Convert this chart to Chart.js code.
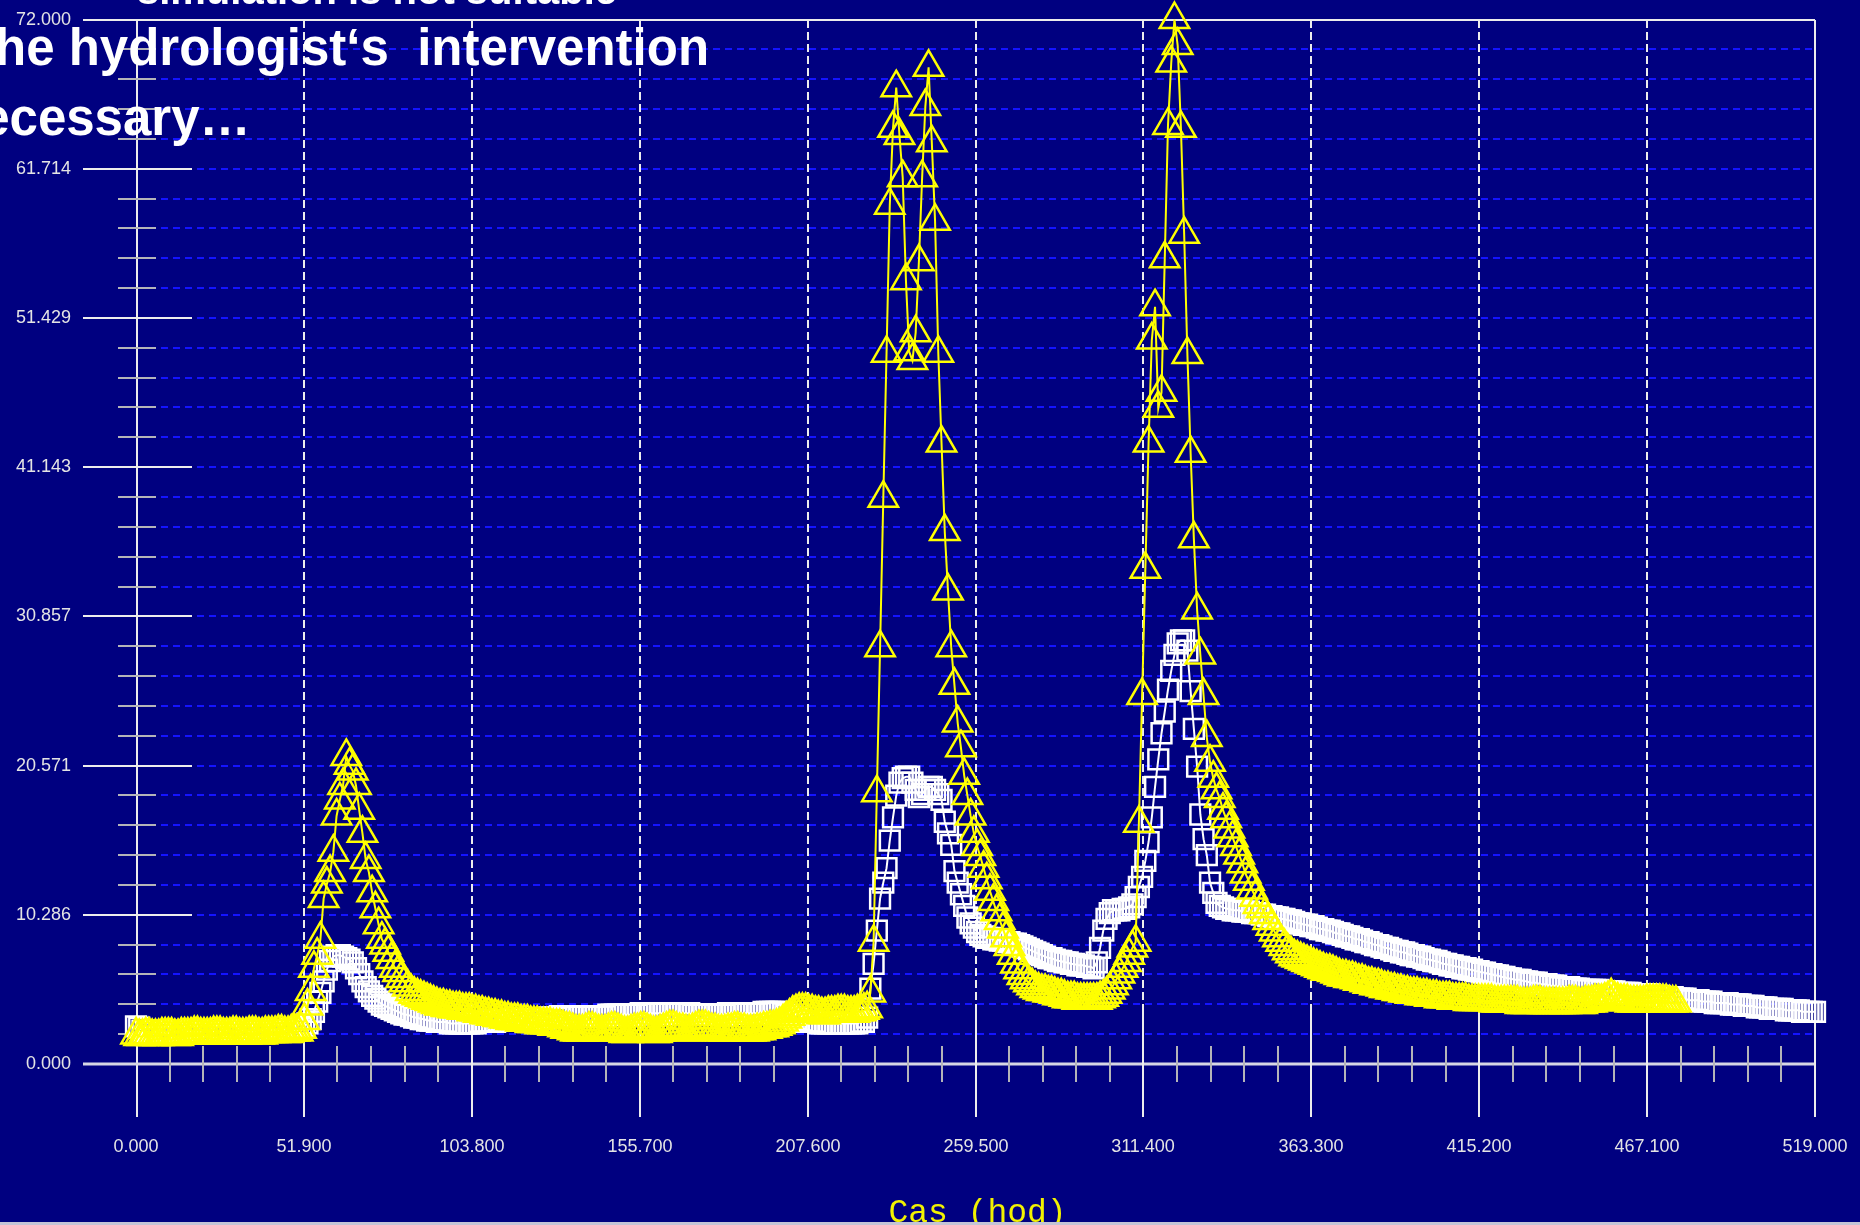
<!DOCTYPE html>
<html>
<head>
<meta charset="utf-8">
<title>Cas (hod)</title>
<script src="https://cdn.jsdelivr.net/npm/chart.js@4.4.1/dist/chart.umd.min.js"></script>
<style>
  html, body { margin: 0; padding: 0; width: 1860px; height: 1225px; overflow: hidden; background: #000080; }
  #wrap { position: absolute; left: 0; top: 0; width: 1860px; height: 1225px; }
  .note { position: absolute; white-space: pre; font: bold 51px "Liberation Sans", Arial, sans-serif; line-height: 51px; color: #fff; }
  .note.first { font-size: 40px; line-height: 40px; }
</style>
</head>
<body>
<div id="wrap"><canvas id="c" width="1860" height="1225"></canvas></div>
<div class="note first" style="right:1243px;top:-30px">simulation is not suitable</div>
<div class="note" style="left:-22px;top:22px">the hydrologist‘s  intervention</div>
<div class="note" style="left:-50px;top:92px">necessary…</div>
<script>
// Hydrograph: observed flow (squares) vs simulated flow (triangles), hourly steps.
const STEP_H = 1;
const X_LABELS = ["0.000", "51.900", "103.800", "155.700", "207.600", "259.500", "311.400", "363.300", "415.200", "467.100", "519.000"];
const Y_LABELS = ["0.000", "10.286", "20.571", "30.857", "41.143", "51.429", "61.714", "72.000"];
const MINOR_PER_MAJOR = 5;
const X_TITLE = "Cas (hod)";

// observed, hours 0..519
const OBS_FLOW = [
  2.6,2.5,2.3,2.2,2.2,2.2,2.3,2.2,2.2,2.2, 2.2,2.2,2.2,2.3,2.2,2.2,2.2,2.2,2.3,2.3,
  2.2,2.2,2.2,2.2,2.2,2.2,2.2,2.3,2.3,2.3, 2.3,2.2,2.2,2.2,2.2,2.3,2.3,2.2,2.2,2.2,
  2.3,2.3,2.3,2.3,2.3,2.3,2.3,2.3,2.4,2.4, 2.4,2.5,2.6,2.8,3.1,3.6,4.3,4.9,5.7,6.5,
  7.1,7.4,7.5,7.5,7.4,7.3,7.2,7.0,6.6,6.2, 5.7,5.3,5.0,4.7,4.5,4.3,4.1,4.0,3.9,3.8,
  3.7,3.6,3.5,3.4,3.4,3.3,3.2,3.2,3.1,3.1, 3.0,3.0,3.0,2.9,2.9,2.9,2.9,2.8,2.8,2.8,
  2.8,2.8,2.8,2.8,2.8,2.8,2.9,2.9,2.9,2.9, 2.9,2.9,3.0,3.0,3.0,3.0,3.0,3.0,3.0,3.0,
  3.0,3.0,3.1,3.1,3.1,3.1,3.1,3.2,3.2,3.2, 3.2,3.3,3.3,3.3,3.3,3.3,3.3,3.3,3.3,3.3,
  3.3,3.3,3.3,3.3,3.3,3.3,3.4,3.4,3.4,3.4, 3.4,3.4,3.4,3.4,3.4,3.4,3.5,3.5,3.5,3.5,
  3.5,3.5,3.5,3.5,3.5,3.5,3.5,3.5,3.5,3.5, 3.5,3.5,3.4,3.4,3.4,3.4,3.4,3.4,3.4,3.4,
  3.4,3.4,3.4,3.5,3.5,3.5,3.5,3.5,3.5,3.5, 3.5,3.5,3.5,3.5,3.6,3.6,3.6,3.6,3.6,3.6,
  3.5,3.4,3.3,3.2,3.1,3.0,3.0,2.9,2.9,2.9, 2.9,2.8,2.8,2.8,2.8,2.8,2.8,2.8,2.8,2.8,
  2.8,2.8,2.8,2.8,2.9,2.9,3.2,5.2,6.9,9.2, 11.4,12.5,13.5,15.4,17.0,18.5,19.4,19.7,19.8,19.8,
  19.4,18.9,18.4,18.6,18.9,19.1,19.1,18.9,18.6,18.2, 16.7,15.9,15.1,13.3,12.5,11.7,10.9,10.1,9.7,9.4,
  9.1,8.9,8.8,8.7,8.7,8.6,8.6,8.5,8.5,8.4, 8.4,8.3,8.3,8.2,8.1,8.0,7.9,7.8,7.7,7.6,
  7.5,7.4,7.3,7.3,7.2,7.1,7.1,7.0,7.0,6.9, 6.9,6.8,6.8,6.8,6.7,6.7,6.6,7.0,8.0,9.2,
  10.0,10.4,10.6,10.6,10.6,10.7,10.7,10.8,11.0,11.5, 12.2,12.9,14.0,15.3,17.0,19.1,21.0,22.8,24.3,25.8,
  27.1,28.2,29.0,29.2,29.2,28.5,25.7,23.1,20.5,17.2, 15.5,14.4,12.5,11.8,11.1,10.9,10.8,10.7,10.7,10.6,
  10.6,10.6,10.5,10.5,10.5,10.4,10.4,10.4,10.3,10.3, 10.2,10.2,10.1,10.1,10.0,10.0,9.9,9.9,9.8,9.7,
  9.7,9.6,9.6,9.5,9.5,9.4,9.3,9.3,9.2,9.2, 9.1,9.0,9.0,8.9,8.8,8.8,8.7,8.6,8.6,8.5,
  8.4,8.4,8.3,8.2,8.2,8.1,8.0,8.0,7.9,7.8, 7.8,7.7,7.7,7.6,7.5,7.5,7.4,7.4,7.3,7.2,
  7.2,7.1,7.1,7.0,6.9,6.9,6.8,6.8,6.7,6.7, 6.6,6.6,6.5,6.5,6.4,6.4,6.3,6.3,6.2,6.2,
  6.1,6.1,6.0,6.0,5.9,5.9,5.8,5.8,5.8,5.7, 5.7,5.6,5.6,5.6,5.5,5.5,5.5,5.4,5.4,5.4,
  5.3,5.3,5.3,5.3,5.2,5.2,5.2,5.1,5.1,5.1, 5.1,5.1,5.1,5.0,5.0,5.0,5.0,5.0,4.9,4.9,
  4.9,4.9,4.9,4.8,4.8,4.8,4.8,4.8,4.8,4.7, 4.7,4.7,4.6,4.6,4.6,4.6,4.5,4.5,4.5,4.5,
  4.4,4.4,4.4,4.4,4.3,4.3,4.3,4.3,4.2,4.2, 4.2,4.2,4.2,4.1,4.1,4.1,4.1,4.0,4.0,4.0,
  4.0,3.9,3.9,3.9,3.9,3.8,3.8,3.8,3.8,3.8, 3.7,3.7,3.7,3.7,3.7,3.6,3.6,3.6,3.6,3.6,
];

// simulated, hours 0..476
const SIM_FLOW = [
  2.0,1.9,1.9,2.0,2.0,1.9,1.9,1.9,2.0,2.0, 2.0,2.0,1.9,1.9,2.0,2.0,2.0,2.0,2.1,2.1,
  2.0,2.0,2.0,2.0,2.1,2.1,2.1,2.0,2.0,2.0, 2.1,2.1,2.0,2.0,2.0,2.1,2.1,2.1,2.0,2.0,
  2.1,2.1,2.1,2.1,2.2,2.2,2.1,2.1,2.2,2.2, 2.2,2.4,3.0,4.0,5.0,6.6,7.5,8.6,11.4,12.4,
  13.2,14.6,17.1,18.2,19.2,21.2,20.6,20.2,19.2,17.5, 15.9,14.1,13.2,11.8,10.7,9.6,8.6,8.2,7.7,7.2,
  6.6,6.3,5.9,5.6,5.3,5.0,4.8,4.7,4.6,4.5, 4.4,4.3,4.2,4.1,4.0,4.0,3.9,3.9,3.8,3.8,
  3.8,3.7,3.7,3.7,3.6,3.6,3.5,3.5,3.4,3.4, 3.3,3.3,3.2,3.2,3.1,3.1,3.0,3.0,3.0,2.9,
  2.9,2.9,2.8,2.8,2.8,2.7,2.7,2.7,2.7,2.6, 2.6,2.6,2.5,2.4,2.4,2.3,2.2,2.2,2.2,2.3,
  2.4,2.4,2.3,2.2,2.2,2.2,2.3,2.4,2.4,2.3, 2.2,2.1,2.1,2.2,2.3,2.3,2.4,2.4,2.3,2.2,
  2.1,2.1,2.2,2.3,2.4,2.5,2.5,2.4,2.3,2.3, 2.2,2.2,2.3,2.4,2.5,2.5,2.5,2.4,2.3,2.3,
  2.2,2.2,2.2,2.3,2.3,2.4,2.4,2.3,2.3,2.2, 2.2,2.2,2.3,2.3,2.4,2.4,2.5,2.5,2.6,2.7,
  2.9,3.1,3.3,3.5,3.6,3.7,3.7,3.7,3.6,3.6, 3.5,3.5,3.4,3.4,3.5,3.5,3.5,3.6,3.6,3.6,
  3.5,3.5,3.5,3.6,3.6,3.7,3.8,4.9,8.4,18.7, 28.7,39.0,49.0,59.2,64.5,67.3,64.0,61.1,54.0,49.1,
  48.5,50.4,55.3,61.1,66.0,68.7,63.5,58.1,49.0,42.8, 36.7,32.6,28.7,26.1,23.5,21.8,19.9,18.5,17.1,15.9,
  15.0,14.3,13.5,12.7,11.9,11.2,10.5,9.9,9.3,8.7, 8.1,7.5,6.9,6.5,6.1,5.8,5.6,5.4,5.2,5.1,
  5.0,5.0,4.9,4.9,4.8,4.7,4.7,4.6,4.5,4.5, 4.5,4.4,4.4,4.4,4.4,4.4,4.4,4.4,4.5,4.6,
  4.8,5.1,5.4,5.8,6.2,6.6,7.0,7.5,8.0,8.4, 16.6,25.4,34.1,42.8,49.9,52.2,45.2,46.3,55.5,64.7,
  69.0,72.0,70.2,64.5,57.2,48.9,42.1,36.2,31.3,28.2, 25.4,22.5,20.8,19.7,18.9,18.3,17.5,16.9,16.2,15.6,
  15.0,14.4,13.8,13.1,12.6,12.0,11.5,11.0,10.7,10.3, 9.9,9.5,9.1,8.7,8.4,8.1,7.8,7.6,7.4,7.3,
  7.2,7.1,7.0,6.9,6.8,6.7,6.6,6.5,6.4,6.4, 6.3,6.2,6.1,6.0,6.0,5.9,5.9,5.8,5.7,5.7,
  5.6,5.5,5.5,5.4,5.4,5.3,5.2,5.2,5.1,5.1, 5.0,5.0,4.9,4.9,4.8,4.8,4.8,4.7,4.7,4.7,
  4.6,4.6,4.6,4.5,4.5,4.5,4.5,4.4,4.4,4.4, 4.4,4.4,4.3,4.3,4.3,4.3,4.3,4.3,4.3,4.3,
  4.2,4.2,4.2,4.2,4.2,4.2,4.2,4.2,4.1,4.1, 4.1,4.1,4.2,4.2,4.2,4.1,4.1,4.1,4.1,4.1,
  4.1,4.1,4.1,4.2,4.2,4.2,4.1,4.1,4.2,4.2, 4.2,4.3,4.3,4.3,4.4,4.5,4.7,4.5,4.4,4.3,
  4.3,4.3,4.2,4.2,4.2,4.2,4.2,4.3,4.3,4.3, 4.3,4.3,4.3,4.3,4.2,4.2,4.2,
];

const YELLOW = "#ffff00";
const WHITE = "#ffffff";
const BLUE_RULE = "#1414ff";
const TICK = "#ececec";
const TICK_MINOR = "#b4b4b8";
const LABEL = "#e4e4e4";

const pts = (arr) => arr.map((v, i) => ({ x: i * STEP_H, y: v }));
const xMajor = X_LABELS.map(Number);
const yMajor = Y_LABELS.map(Number);
const subdivide = (major) => {
  const out = [];
  for (let i = 0; i < major.length - 1; i++)
    for (let k = 1; k < MINOR_PER_MAJOR; k++) out.push(major[i] + (major[i + 1] - major[i]) * k / MINOR_PER_MAJOR);
  return out;
};
const xMinor = subdivide(xMajor);
const yMinor = subdivide(yMajor);

// old-style axis frame: long major ticks crossing the axes, short minor ticks,
// blue dashed rules on every y step and white dashed verticals on x majors
const frame = {
  id: "frame",
  beforeDatasetsDraw(chart) {
    const { ctx, chartArea: a, scales: { x, y } } = chart;
    const seg = (x1, y1, x2, y2) => { ctx.beginPath(); ctx.moveTo(x1, y1); ctx.lineTo(x2, y2); ctx.stroke(); };
    const ax = Math.round(x.getPixelForValue(xMajor[0])) + 1;
    const ay = Math.round(y.getPixelForValue(yMajor[0]));
    const yTop = Math.round(y.getPixelForValue(yMajor[yMajor.length - 1]));
    const xEnd = Math.round(x.getPixelForValue(xMajor[xMajor.length - 1]));
    ctx.save();
    ctx.lineCap = "butt";

    ctx.strokeStyle = BLUE_RULE; ctx.lineWidth = 2; ctx.setLineDash([7, 5]);
    for (const v of yMinor.concat(yMajor.slice(1, -1))) {
      const py = Math.round(y.getPixelForValue(v));
      seg(ax, py, xEnd, py);
    }
    ctx.strokeStyle = TICK; ctx.setLineDash([8, 4]);
    for (const v of xMajor.slice(1, -1)) {
      const px = Math.round(x.getPixelForValue(v));
      seg(px, yTop, px, ay - 59);
    }
    ctx.setLineDash([]);

    // frame lines
    ctx.strokeStyle = TICK; ctx.lineWidth = 2;
    seg(ax - 54, yTop, xEnd, yTop);
    seg(xEnd, yTop, xEnd, ay + 53);
    seg(ax, yTop, ax, ay + 53);
    ctx.strokeStyle = "#d6d6e4"; ctx.lineWidth = 3;
    seg(ax - 54, ay, xEnd, ay);

    // y ticks
    ctx.lineWidth = 2;
    ctx.strokeStyle = TICK;
    for (const v of yMajor.slice(1, -1)) { const py = Math.round(y.getPixelForValue(v)); seg(ax - 54, py, ax + 55, py); }
    ctx.strokeStyle = TICK_MINOR;
    for (const v of yMinor) { const py = Math.round(y.getPixelForValue(v)); seg(ax - 19, py, ax + 19, py); }

    // x ticks
    ctx.strokeStyle = TICK;
    for (const v of xMajor.slice(1)) { const px = Math.round(x.getPixelForValue(v)); seg(px, ay - 59, px, ay + 53); }
    ctx.strokeStyle = TICK_MINOR;
    for (const v of xMinor) { const px = Math.round(x.getPixelForValue(v)); seg(px, ay - 18, px, ay + 18); }

    // tick labels
    ctx.fillStyle = LABEL;
    ctx.font = '18px "Liberation Sans", Arial, sans-serif';
    ctx.textBaseline = "middle";
    ctx.textAlign = "right";
    Y_LABELS.forEach((t, i) => ctx.fillText(t, ax - 66, Math.round(y.getPixelForValue(yMajor[i]))));
    ctx.textAlign = "center";
    X_LABELS.forEach((t, i) => ctx.fillText(t, Math.round(x.getPixelForValue(xMajor[i])), ay + 83));

    // axis title
    ctx.fillStyle = "#f2f200";
    ctx.font = '33px "Liberation Mono", "Courier New", monospace';
    ctx.textBaseline = "alphabetic";
    ctx.fillText(X_TITLE, (a.left + a.right) / 2 + 2, ay + 158);
    ctx.restore();
  },
  afterDraw(chart) {
    const { ctx, width, height } = chart;
    ctx.save();
    ctx.fillStyle = "#c4c4d6";
    ctx.fillRect(0, height - 3, width, 3);
    ctx.restore();
  },
};

new Chart(document.getElementById("c"), {
  type: "line",
  data: {
    datasets: [
      {
        label: "simulovaný průtok",
        data: pts(SIM_FLOW),
        borderColor: YELLOW, borderWidth: 2,
        pointStyle: "triangle", pointRadius: 17, pointBorderWidth: 2.5,
        pointBorderColor: YELLOW, pointBackgroundColor: "rgba(0,0,0,0)",
        clip: false, order: 1,
      },
      {
        label: "pozorovaný průtok",
        data: pts(OBS_FLOW),
        borderColor: WHITE, borderWidth: 2,
        pointStyle: "rect", pointRadius: 14, pointBorderWidth: 2.5,
        pointBorderColor: WHITE, pointBackgroundColor: "rgba(0,0,0,0)",
        clip: false, order: 2,
      },
    ],
  },
  options: {
    responsive: false,
    animation: false,
    events: [],
    layout: { padding: { left: 136, right: 45, top: 12, bottom: 161 } },
    elements: { line: { tension: 0 } },
    scales: {
      x: { type: "linear", min: xMajor[0], max: xMajor[xMajor.length - 1], display: false },
      y: { type: "linear", min: yMajor[0], max: yMajor[yMajor.length - 1], display: false },
    },
    plugins: { legend: { display: false }, tooltip: { enabled: false } },
  },
  plugins: [frame],
});
</script>
</body>
</html>
